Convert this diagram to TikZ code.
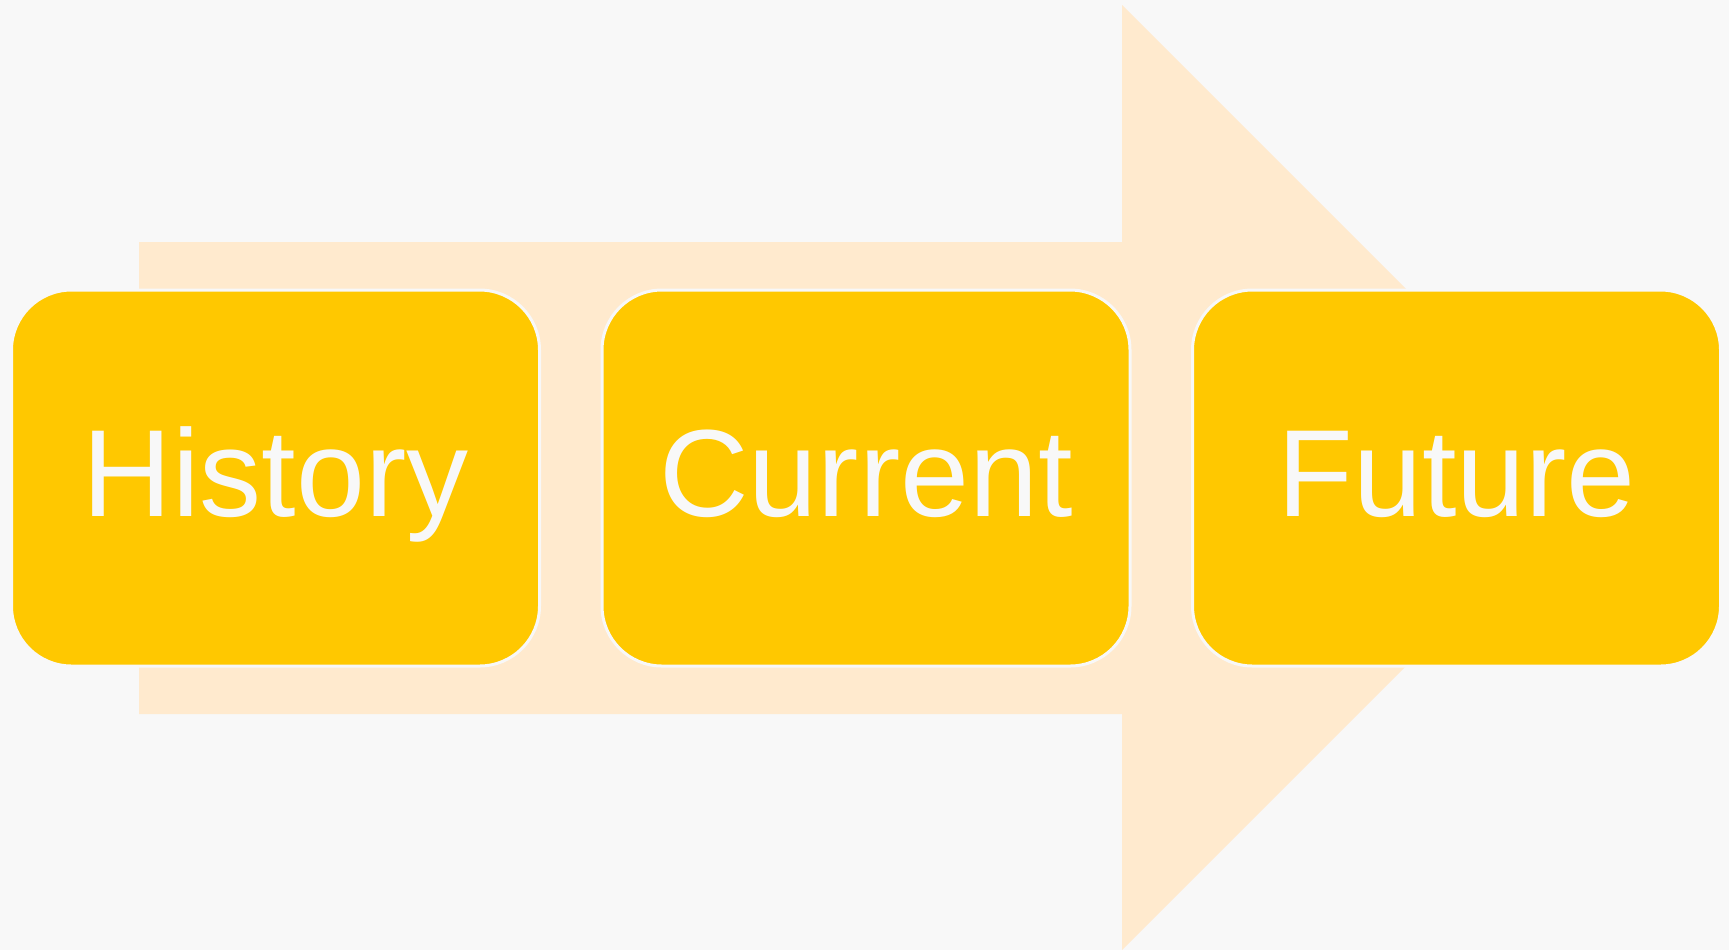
\documentclass[tikz,border=0pt]{standalone}
\usepackage{fontspec}
\setmainfont{Liberation Sans}
\usetikzlibrary{positioning}
\definecolor{pagebg}{HTML}{F8F8F8}
\definecolor{arrowfill}{HTML}{FFEACE}
\definecolor{stagefill}{HTML}{FFC800}
\tikzset{
  stage/.style={rectangle, rounded corners=30pt, fill=stagefill, draw=pagebg,
    line width=1.5pt, minimum width=264pt, minimum height=188pt,
    text=pagebg, font=\fontsize{62}{74}\selectfont, inner sep=0pt,
    text height=46.5pt, text depth=8.5pt}
}

\begin{document}
\begin{tikzpicture}[x=0.5pt,y=-0.5pt]
\useasboundingbox (0,0) rectangle (1729,950);
\fill[pagebg] (0,0) rectangle (1729,950);
% big arrow behind the stages
\fill[arrowfill] (139,242) -- (1122,242) -- (1122,5) -- (1594.5,477.5)
  -- (1122,950) -- (1122,714) -- (139,714) -- cycle;
\node[stage] (history) at (275.5,478) {History};
\node[stage, right=29.75pt of history] (current) {Current};
\node[stage, right=29.75pt of current] (future) {Future};
\end{tikzpicture}
\end{document}
